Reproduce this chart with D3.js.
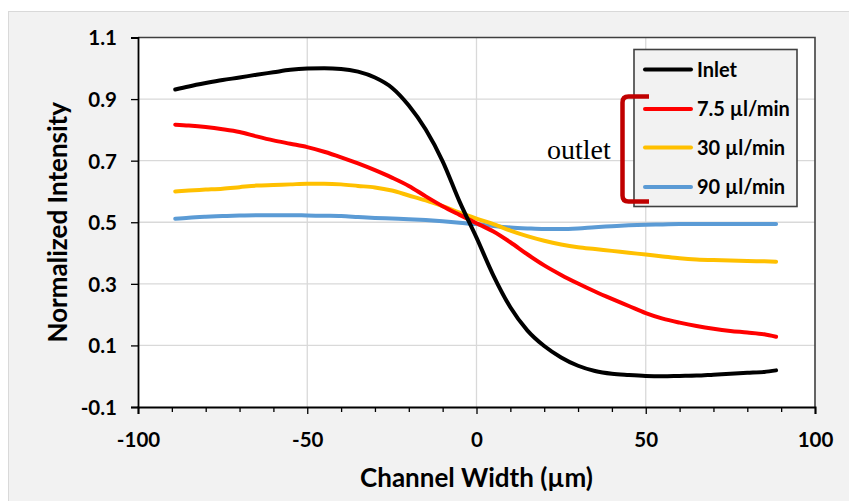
<!DOCTYPE html>
<html><head><meta charset="utf-8">
<script src="https://cdn.jsdelivr.net/npm/d3@7/dist/d3.min.js"></script>
<style>body{margin:0;background:#fff}</style>
</head><body><svg id="c" width="849" height="501"></svg>
<script>
const xValues = [-89,-85,-80,-75,-70,-65,-60,-55,-50,-45,-40,-35,-30,-25,-20,-15,-10,-5,0,5,10,15,20,25,30,35,40,45,50,55,60,65,70,75,80,85,88.5];
const inlet    = [0.931,0.941,0.952,0.962,0.970,0.979,0.987,0.995,0.999,1.000,0.998,0.989,0.970,0.937,0.879,0.801,0.698,0.567,0.450,0.327,0.224,0.149,0.098,0.061,0.034,0.017,0.008,0.004,0.001,0.000,0.001,0.002,0.005,0.008,0.011,0.014,0.019];
const flow75   = [0.817,0.814,0.809,0.802,0.793,0.779,0.766,0.755,0.744,0.729,0.711,0.691,0.669,0.645,0.618,0.584,0.552,0.524,0.497,0.470,0.435,0.396,0.360,0.329,0.301,0.275,0.251,0.228,0.205,0.187,0.174,0.163,0.154,0.147,0.142,0.136,0.128];
const flow30   = [0.600,0.603,0.606,0.609,0.614,0.619,0.621,0.623,0.625,0.625,0.623,0.618,0.613,0.603,0.587,0.571,0.552,0.531,0.512,0.494,0.473,0.455,0.440,0.428,0.419,0.413,0.407,0.401,0.395,0.389,0.383,0.379,0.377,0.376,0.374,0.373,0.372];
const flow90   = [0.511,0.515,0.518,0.520,0.522,0.523,0.523,0.523,0.522,0.521,0.520,0.517,0.514,0.512,0.510,0.507,0.503,0.498,0.494,0.488,0.483,0.480,0.478,0.478,0.480,0.484,0.487,0.490,0.492,0.493,0.494,0.494,0.494,0.494,0.494,0.494,0.494];
const seriesNames  = ["Inlet","7.5 µl/min","30 µl/min","90 µl/min"];
const seriesColors = ["#000000","#ff0000","#ffc000","#5b9bd5"];
const xTicks = [-100,-50,0,50,100];
const xTickLabels = ["-100","-50","0","50","100"];
const xMinorTicks = [-90,-80,-70,-60,-40,-30,-20,-10,10,20,30,40,60,70,80,90];
const yTicks = [-0.1,0.1,0.3,0.5,0.7,0.9,1.1];
const yTickLabels = ["-0.1","0.1","0.3","0.5","0.7","0.9","1.1"];
const xTitle = "Channel Width (µm)";
const yTitle = "Normalized Intensity";
const bracketLabel = "outlet";

const svg = d3.select("#c");
const W = 849, H = 501;
const L = 138, R = 815, T = 37.5, B = 407;
const font = "Lato, 'Noto Sans', sans-serif";

// chart area background
svg.append("rect").attr("x",8.5).attr("y",11.5).attr("width",W).attr("height",H)
  .attr("fill","#f2f2f2").attr("stroke","#d9d9d9").attr("stroke-width",1);

const x = d3.scaleLinear().domain([-100,100]).range([L,R]);
const y = d3.scaleLinear().domain([-0.1,1.1]).range([B,T]);

// plot area
svg.append("rect").attr("x",L).attr("y",T).attr("width",R-L).attr("height",B-T)
  .attr("fill","#ffffff");

// gridlines
svg.append("g").selectAll("line").data(yTicks.filter(v=>v>-0.1 && v<1.1)).join("line")
  .attr("x1",L).attr("x2",R).attr("y1",d=>y(d)).attr("y2",d=>y(d))
  .attr("stroke","#d9d9d9").attr("stroke-width",1.3);
svg.append("g").selectAll("line").data(xTicks.filter(v=>v>-100 && v<100)).join("line")
  .attr("y1",T).attr("y2",B).attr("x1",d=>x(d)).attr("x2",d=>x(d))
  .attr("stroke","#d9d9d9").attr("stroke-width",1.3);

// plot border (top & right)
svg.append("path").attr("d",`M${L},${T}H${R}V${B}`).attr("fill","none")
  .attr("stroke","#404040").attr("stroke-width",1.6);

// axes
const xAxis = svg.append("g").attr("transform",`translate(0,${B})`)
  .call(d3.axisBottom(x).tickValues(xTicks).tickSize(7).tickFormat((d,i)=>xTickLabels[i]));
const xMinor = svg.append("g").attr("transform",`translate(0,${B})`)
  .call(d3.axisBottom(x).tickValues(xMinorTicks).tickSize(5).tickFormat(""));
xMinor.select(".domain").remove();
const yAxis = svg.append("g").attr("transform",`translate(${L},0)`)
  .call(d3.axisLeft(y).tickValues(yTicks).tickSize(7).tickFormat((d,i)=>yTickLabels[i]));

[xAxis,xMinor,yAxis].forEach(g=>{
  g.selectAll(".tick line").attr("stroke","#000").attr("stroke-width",1.3);
});
xAxis.select(".domain").attr("stroke","#000").attr("stroke-width",2);
yAxis.select(".domain").attr("stroke","#000").attr("stroke-width",1.8);
xAxis.selectAll(".tick text").attr("font-family",font).attr("font-weight","bold")
  .attr("font-size",20.5).attr("fill","#000").attr("dy",null).attr("y",40);
yAxis.selectAll(".tick text").attr("font-family",font).attr("font-weight","bold")
  .attr("font-size",20.5).attr("fill","#000").attr("x",-21).attr("dy","0.36em");

// lines
const seriesData = [inlet,flow75,flow30,flow90];
const line = d3.line().x((d,i)=>x(xValues[i])).y(d=>y(d)).curve(d3.curveMonotoneX);
const order = [3,2,1,0];
svg.append("g").selectAll("path").data(order).join("path")
  .attr("d",k=>line(seriesData[k])).attr("fill","none")
  .attr("stroke",k=>seriesColors[k]).attr("stroke-width",4)
  .attr("stroke-linecap","round").attr("stroke-linejoin","round");

// axis titles
svg.append("text").attr("x",(L+R)/2).attr("y",486.5).attr("text-anchor","middle")
  .attr("font-family",font).attr("font-weight","bold").attr("font-size",26).text(xTitle);
svg.append("text").attr("transform",`translate(67,${(T+B)/2}) rotate(-90)`).attr("text-anchor","middle")
  .attr("font-family",font).attr("font-weight","bold").attr("font-size",26).text(yTitle);

// legend
const lg = svg.append("g");
lg.append("rect").attr("x",634).attr("y",49.5).attr("width",163).attr("height",157)
  .attr("fill","#f2f2f2").attr("stroke","#404040").attr("stroke-width",1.6);
const legY = [69.5,109,147.5,187];
seriesNames.forEach((n,i)=>{
  lg.append("line").attr("x1",645).attr("x2",691).attr("y1",legY[i]).attr("y2",legY[i])
    .attr("stroke",seriesColors[i]).attr("stroke-width",4).attr("stroke-linecap","round");
  lg.append("text").attr("x",697).attr("y",legY[i]).attr("dy","0.36em")
    .attr("font-family",font).attr("font-weight","bold").attr("font-size",20).text(n);
});

// outlet bracket
const r = 6;
svg.append("path")
  .attr("d",`M649,96.5H${622.5+r}Q622.5,96.5 622.5,${96.5+r}V${201.5-r}Q622.5,201.5 ${622.5+r},201.5H649`)
  .attr("fill","none").attr("stroke","#c00000").attr("stroke-width",4.5);
svg.append("text").attr("x",547).attr("y",159).attr("font-family","'Liberation Serif','Times New Roman',serif")
  .attr("font-size",28).attr("fill","#000").text(bracketLabel);
</script></body></html>
